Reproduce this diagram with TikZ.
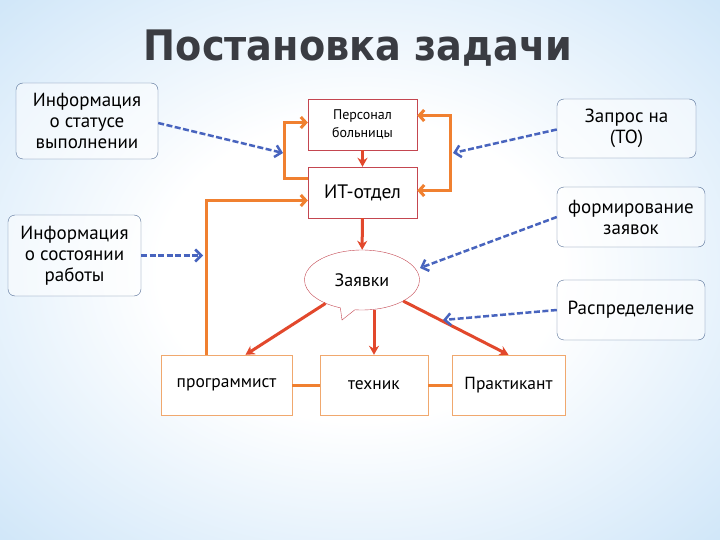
\documentclass[tikz,border=0pt]{standalone}
\usepackage{fontspec}
\setmainfont{PT Sans}
\newfontfamily\titlefont{DejaVu Sans}
\usetikzlibrary{arrows.meta,shapes.callouts}

\definecolor{bgblue}{RGB}{160,205,242}
\definecolor{boxline}{RGB}{84,110,150}
\definecolor{redline}{RGB}{196,70,80}
\definecolor{orline}{RGB}{240,128,48}
\definecolor{orbox}{RGB}{240,168,110}
\definecolor{redarr}{RGB}{226,72,44}
\definecolor{bluedash}{RGB}{72,100,190}
\definecolor{titlegray}{RGB}{58,60,66}

\pgfdeclareradialshading{bgshade}{\pgfpoint{0bp}{0bp}}{color(0bp)=(white); color(14bp)=(white); color(38bp)=(bgblue!55!white); color(52bp)=(bgblue!90!white); color(72bp)=(bgblue)}

\begin{document}
\begin{tikzpicture}[x=1pt,y=-1pt]
        \shade[shading=bgshade] (0,0) rectangle (720,540);
        \useasboundingbox (0,0) rectangle (720,540);

        \node[text=titlegray,font=\titlefont\fontsize{42}{48}\selectfont\bfseries] (0) at (358,48) {\scalebox{0.91}[1]{Постановка задачи}};

        \begin{scope}[every node/.style={draw=boxline,rounded corners=7pt,fill=white,fill opacity=0.5,text opacity=1,align=center,font=\fontsize{19}{21}\selectfont}]
            \node[minimum width=142,minimum height=76] (1) at (87,121) {Информация\\о статусе\\выполнении};
            \node[minimum width=139,minimum height=59] (4) at (626.5,128.5) {Запрос на\\(ТО)};
            \node[minimum width=133,minimum height=81] (5) at (74.5,255.5) {Информация\\о состоянии\\работы};
            \node[minimum width=148,minimum height=60] (6) at (631,217) {формирование\\заявок};
            \node[minimum width=148,minimum height=60] (7) at (631,310) {Распределение};
        \end{scope}

        \begin{scope}[every node/.style={draw=redline,fill=white,align=center,minimum width=109,minimum height=51}]
            \node[font=\fontsize{14}{18}\selectfont] (2) at (362.5,124.5) {Персонал\\больницы};
            \node[font=\fontsize{19.5}{22}\selectfont] (3) at (362.5,192.5) {ИТ-отдел};
            \node[ellipse callout,callout absolute pointer={(342,320)},minimum width=115,minimum height=60,font=\fontsize{18}{21}\selectfont] (8) at (362,280) {Заявки};
        \end{scope}

        \begin{scope}[every node/.style={draw=orbox,fill=white,minimum height=60,font=\fontsize{17.5}{21}\selectfont}]
            \node[minimum width=131] (9) at (226.5,385) {программист};
            \node[minimum width=108] (10) at (374,385) {техник};
            \node[minimum width=113] (11) at (508.5,385) {Практикант};
        \end{scope}

        \coordinate (a1) at (283,153);
        \coordinate (a4) at (453,153);
        \coordinate (a5) at (203,255.5);
        \coordinate (a6) at (420,268);
        \coordinate (a7) at (443,320);

        \begin{scope}[every path/.style={draw=orline,line width=3pt}]
            \path [-{Straight Barb[length=5pt,width=11pt]}] ([yshift=14pt]3.west) -- ++(-23,0) |- ([yshift=2pt]2.west);
            \path [{Straight Barb[length=5pt,width=11pt]}-{Straight Barb[length=5pt,width=11pt]}] ([yshift=9pt]2.east) -- ++(33,0) |- ([yshift=2pt]3.east);
            \path [-{Straight Barb[length=5pt,width=11pt]}] ([xshift=-20pt]9.north) |- ([yshift=-8pt]3.west);
            \path [-] (9) -- (10);
            \path [-] (10) -- (11);
        \end{scope}

        \begin{scope}[every path/.style={draw=redarr,line width=3pt}]
            \path [-{Stealth[length=9pt,width=10pt]}] (2) -- (3);
            \path [-{Stealth[length=9pt,width=10pt]}] (3) -- (8);
            \path [-{Stealth[length=9pt,width=10pt]}] (8) -- ([xshift=19pt]9.north);
            \path [-{Stealth[length=9pt,width=10pt]}] (10.north |- 8.south) -- (10.north);
            \path [-{Stealth[length=9pt,width=10pt]}] (8) -- (11.north);
        \end{scope}

        \begin{scope}[every path/.style={draw=bluedash,line width=2.5pt,dash pattern=on 6pt off 2.5pt}]
            \path [-{Straight Barb[length=6pt,width=12pt]}] ([yshift=-2pt]1.east) -- (a1);
            \path [-{Straight Barb[length=6pt,width=12pt]}] ([yshift=-1pt]4.west) -- (a4);
            \path [-{Straight Barb[length=6pt,width=12pt]}] (5.east) -- (a5);
            \path [-{Straight Barb[length=6pt,width=12pt]}] (6.west) -- (a6);
            \path [-{Straight Barb[length=6pt,width=12pt]}] (7.west) -- (a7);
        \end{scope}
    \end{tikzpicture}
\end{document}
